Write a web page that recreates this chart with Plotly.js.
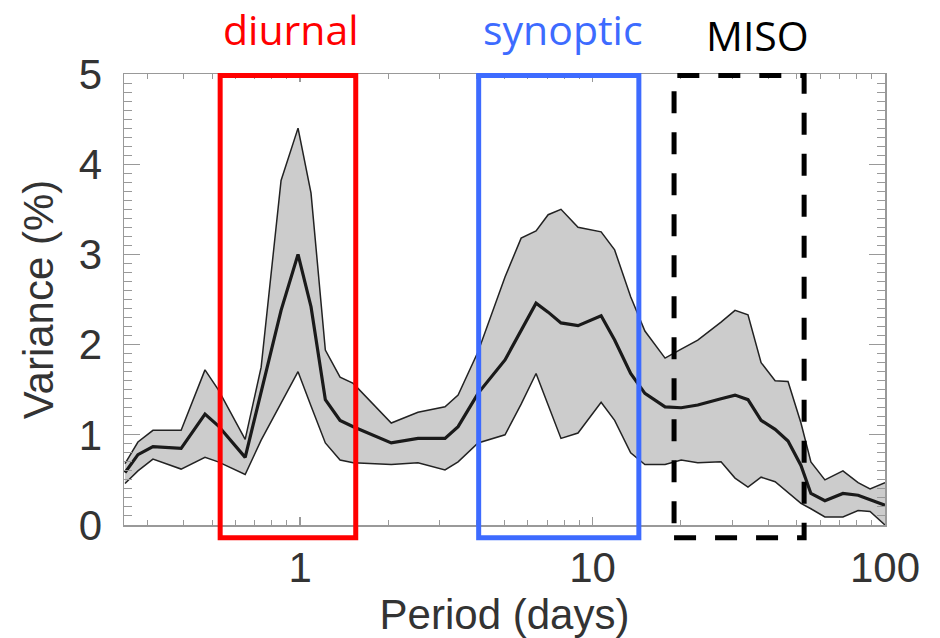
<!DOCTYPE html>
<html>
<head>
<meta charset="utf-8">
<script src="https://cdn.plot.ly/plotly-3.0.1.min.js"></script>
<style>
  html, body { margin: 0; padding: 0; background: #ffffff; }
  #chart { width: 940px; height: 638px; }
</style>
</head>
<body>
<div id="chart"></div>
<script>
// Period (days)
const period = [0.252,0.279,0.314,0.392,0.473,0.525,0.649,0.736,0.861,0.984,1.09,1.22,1.37,1.52,2.05,2.53,3.13,3.47,4.06,5.02,5.70,6.41,7.05,7.80,8.92,10.7,11.9,13.5,15.1,17.7,20.1,22.9,27.5,30.7,34.0,37.7,42.1,46.6,51.6,55.8,62.3,71.8,80.9,88.9,100];
// Variance (%) envelope and median
const upper  = [0.68,0.92,1.05,1.05,1.72,1.50,0.95,1.75,3.82,4.40,3.68,1.94,1.64,1.57,1.13,1.25,1.31,1.44,1.92,2.75,3.18,3.26,3.44,3.50,3.30,3.25,3.05,2.53,2.15,1.85,1.95,2.05,2.25,2.38,2.33,1.80,1.60,1.59,1.13,0.70,0.50,0.60,0.47,0.40,0.47];
const median = [0.58,0.78,0.87,0.85,1.23,1.10,0.75,1.46,2.38,3.00,2.42,1.39,1.16,1.09,0.91,0.96,0.96,1.09,1.46,1.83,2.15,2.46,2.36,2.24,2.21,2.32,2.05,1.68,1.46,1.31,1.30,1.33,1.40,1.44,1.39,1.16,1.06,0.93,0.66,0.35,0.27,0.35,0.33,0.28,0.22];
const lower  = [0.46,0.60,0.73,0.62,0.75,0.70,0.56,0.94,1.35,1.70,1.32,0.91,0.72,0.69,0.67,0.69,0.61,0.70,0.91,1.00,1.34,1.68,1.33,0.96,1.02,1.36,1.16,0.80,0.67,0.67,0.72,0.69,0.70,0.52,0.42,0.53,0.48,0.36,0.24,0.18,0.09,0.09,0.16,0.15,0.00];

// Highlighted bands (period ranges, days) and their labels
const bandNames  = ["diurnal", "synoptic", "MISO"];
const bandStart  = [0.533, 4.08, 19.0];
const bandEnd    = [1.55, 14.4, 52.9];

// Axis ticks
const xTickVals = [1, 10, 100];
const xTickText = ["1", "10", "100"];
const xMinorVals = [0.3,0.4,0.5,0.6,0.7,0.8,0.9,2,3,4,5,6,7,8,9,20,30,40,50,60,70,80,90];
const yTickVals = [0, 1, 2, 3, 4, 5];

const traces = [
  { x: period, y: lower, type: "scatter", mode: "lines",
    line: { color: "#222222", width: 1.5 }, hoverinfo: "skip", showlegend: false },
  { x: period, y: upper, type: "scatter", mode: "lines", fill: "tonexty",
    fillcolor: "#cccccc", line: { color: "#222222", width: 1.5 }, hoverinfo: "skip", showlegend: false },
  { x: period, y: median, type: "scatter", mode: "lines",
    line: { color: "#1a1a1a", width: 3.2 }, hoverinfo: "skip", showlegend: false }
];

const boxStyles = [
  { color: "#ff0000", dash: "solid" },
  { color: "#3d6bff", dash: "solid" },
  { color: "#000000", dash: "22px,19px" }
];
const labelColors = ["#ff0000", "#3d6bff", "#000000"];
const labelX = [0.2194, 0.5769, 0.8331];
const labelY = [1.100, 1.100, 1.087];

const shapes = bandNames.map((n, i) => ({
  type: "rect", xref: "x", yref: "paper",
  x0: bandStart[i], x1: bandEnd[i], y0: -0.028, y1: 0.9967,
  line: { color: boxStyles[i].color, width: 5, dash: boxStyles[i].dash },
  fillcolor: "rgba(0,0,0,0)", layer: "above"
}));

const annotations = bandNames.map((n, i) => ({
  text: n, xref: "paper", yref: "paper", x: labelX[i], y: labelY[i],
  xanchor: "center", yanchor: "middle", showarrow: false,
  font: { family: "Open Sans, sans-serif", size: 41, color: labelColors[i] }
}));

const axisFont = { family: "Liberation Sans, Arial, sans-serif", size: 42, color: "#333333" };

const layout = {
  width: 940, height: 638,
  margin: { l: 124, r: 55, t: 74, b: 113, pad: 0 },
  paper_bgcolor: "#ffffff", plot_bgcolor: "#ffffff",
  showlegend: false,
  xaxis: {
    type: "log", range: [Math.log10(0.25), 2],
    tickmode: "array", tickvals: xTickVals, ticktext: xTickText,
    ticks: "inside", ticklen: 8, tickwidth: 1.2, tickcolor: "#999999",
    minor: { tickmode: "array", tickvals: xMinorVals, ticks: "inside", ticklen: 5, tickwidth: 1, tickcolor: "#999999", showgrid: false },
    showline: true, linecolor: "#999999", linewidth: 1.5, mirror: "allticks",
    showgrid: false, zeroline: false,
    tickfont: axisFont, ticklabelstandoff: 5,
    title: { text: "Period (days)", font: axisFont, standoff: 18 }
  },
  yaxis: {
    range: [0, 5],
    tickmode: "array", tickvals: yTickVals,
    ticks: "inside", ticklen: 16, tickwidth: 1.2, tickcolor: "#999999",
    minor: { dtick: 0.1, ticks: "inside", ticklen: 8, tickwidth: 1, tickcolor: "#999999", showgrid: false },
    showline: true, linecolor: "#999999", linewidth: 1.5, mirror: "allticks",
    showgrid: false, zeroline: false,
    tickfont: axisFont, ticklabelstandoff: 12,
    title: { text: "Variance (%)", font: axisFont, standoff: 12 }
  },
  shapes: shapes,
  annotations: annotations
};

Plotly.newPlot("chart", traces, layout, { displayModeBar: false, staticPlot: true });
</script>
</body>
</html>
